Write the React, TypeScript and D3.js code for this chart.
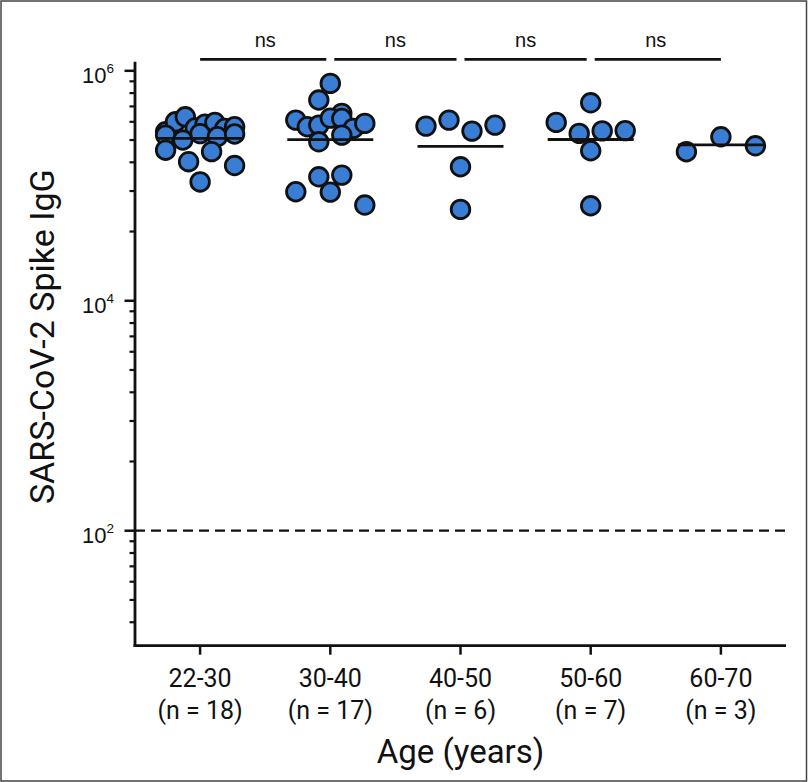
import React from "react";
import * as d3 from "d3";

// ---------- data ----------
const CATEGORIES = ["22-30", "30-40", "40-50", "50-60", "60-70"];

// SARS-CoV-2 spike IgG per participant, by age group
const IGG_22_30 = [
  295000, 360000, 398000, 318000, 344000, 355000, 315000, 326000,
  276000, 250000, 284000, 267000, 282000,
  204000, 162000, 198000, 150000,
  108000,
];
const IGG_30_40 = [
  777000,
  557000, 426000,
  372700, 326000, 337100, 388000, 385000, 315600, 348800,
  241300, 276000,
  119700, 123900,
  88700, 88000,
  68000,
];
const IGG_40_50 = [330500, 372700, 299000, 337100, 146300, 62300];
const IGG_50_60 = [527000, 355800, 285600, 300000, 302000, 201600, 67000];
const IGG_60_70 = [197600, 266700, 222700];

const GROUPS = [IGG_22_30, IGG_30_40, IGG_40_50, IGG_50_60, IGG_60_70];

const Y_MAJOR_TICKS = [1e2, 1e4, 1e6];
const Y_MAJOR_EXP = ["2", "4", "6"];
const SIG_LABELS = ["ns", "ns", "ns", "ns"];
const DETECTION_LIMIT = 100;
const Y_TITLE = "SARS-CoV-2 Spike IgG";
const X_TITLE = "Age (years)";

// ---------- layout ----------
const W = 808;
const H = 782;
const X0 = 135;
const X1 = 786;
const Y_TOP = 61.7;
const Y_BOT = 645.7;
const FILL = "#3a7dd5";
const INK = "#111";

const x = d3.scalePoint<string>().domain(CATEGORIES).range([X0, X1]).padding(0.5);
const y = d3.scaleLog().domain([10, 1.2e6]).range([Y_BOT, Y_TOP]);

// minor ticks (Prism style: spaced within each labelled 100-fold interval)
const MINOR_TICKS: number[] = [];
Y_MAJOR_TICKS.forEach((m) => {
  d3.range(2, 10).forEach((k) => {
    const v = m * (k / 10) * (k / 10);
    if (v >= 10 && v <= 1.2e6) MINOR_TICKS.push(v);
  });
});

function swarm(values: number[], cx: number): number[] {
  const order = values.map((_, i) => i).sort((a, b) => values[b] - values[a]);
  const rows: { start: number; members: number[] }[] = [];
  let cur: { start: number; members: number[] } | null = null;
  for (const i of order) {
    const py = y(values[i]);
    if (!cur || py - cur.start > 16) {
      cur = { start: py, members: [] };
      rows.push(cur);
    }
    cur.members.push(i);
  }
  const xs = new Array(values.length).fill(cx);
  rows.forEach((r) => {
    const m = r.members.slice().sort((a, b) => a - b);
    const n = m.length;
    const s = n > 2 ? 69 / (n - 1) : 23;
    m.forEach((i, k) => {
      xs[i] = cx + (k - (n - 1) / 2) * s;
    });
  });
  return xs;
}

export default function App() {
  const sans = "'Liberation Sans', Arial, sans-serif";
  const cond = "Roboto, sans-serif";
  const sigY = 59.3;

  return (
    <svg
      width={W}
      height={H}
      viewBox={`0 0 ${W} ${H}`}
      style={{ position: "absolute", left: 0, top: 0, display: "block", background: "#fff" }}
    >
      <rect x={0} y={0} width={W} height={H} fill="#fff" />
      <rect x={1} y={1} width={W - 2.5} height={H - 2} fill="none" stroke="#444" strokeWidth={1.5} />

      {/* detection limit */}
      <line
        x1={X0}
        x2={X1}
        y1={y(DETECTION_LIMIT)}
        y2={y(DETECTION_LIMIT)}
        stroke={INK}
        strokeWidth={2.2}
        strokeDasharray="10,6"
      />

      {/* y axis */}
      <line x1={X0} x2={X0} y1={Y_TOP} y2={Y_BOT + 1.4} stroke={INK} strokeWidth={2.8} />
      {MINOR_TICKS.map((v, i) => (
        <line key={"m" + i} x1={X0 - 5.5} x2={X0} y1={y(v)} y2={y(v)} stroke={INK} strokeWidth={2.2} />
      ))}
      {Y_MAJOR_TICKS.map((v, i) => (
        <g key={"M" + i}>
          <line x1={X0 - 10.5} x2={X0} y1={y(v)} y2={y(v)} stroke={INK} strokeWidth={2.5} />
          <text x={114} y={y(v) + 12.5} textAnchor="end" fontFamily={sans} fontSize={22} fill={INK}>
            10
            <tspan dy={-10} fontSize={13.5}>
              {Y_MAJOR_EXP[i]}
            </tspan>
          </text>
        </g>
      ))}
      <text
        transform={`translate(54, ${(y(1.2e6) + Y_BOT) / 2 - 17}) rotate(-90)`}
        textAnchor="middle"
        fontFamily={cond}
        fontSize={34}
        fill={INK}
      >
        {Y_TITLE}
      </text>

      {/* x axis */}
      <line x1={X0 - 1.4} x2={X1} y1={Y_BOT} y2={Y_BOT} stroke={INK} strokeWidth={2.8} />
      {CATEGORIES.map((c, i) => {
        const cx = x(c)!;
        return (
          <g key={c}>
            <line x1={cx} x2={cx} y1={Y_BOT} y2={Y_BOT + 9} stroke={INK} strokeWidth={2.5} />
            <text x={cx} y={687} textAnchor="middle" fontFamily={cond} fontSize={25} fill={INK}>
              {c}
            </text>
            <text x={cx} y={719} textAnchor="middle" fontFamily={cond} fontSize={25} fill={INK}>
              {`(n = ${GROUPS[i].length})`}
            </text>
          </g>
        );
      })}
      <text x={(X0 + X1) / 2} y={763} textAnchor="middle" fontFamily={cond} fontSize={33} fill={INK}>
        {X_TITLE}
      </text>

      {/* points and geometric-mean lines */}
      {GROUPS.map((vals, gi) => {
        const cx = x(CATEGORIES[gi])!;
        const xs = swarm(vals, cx);
        const gm = Math.pow(10, d3.mean(vals, (v) => Math.log10(v))!);
        return (
          <g key={"g" + gi}>
            {vals.map((v, i) => (
              <circle key={i} cx={xs[i]} cy={y(v)} r={9.3} fill={FILL} stroke={INK} strokeWidth={2.8} />
            ))}
            <line x1={cx - 43} x2={cx + 43} y1={y(gm)} y2={y(gm)} stroke={INK} strokeWidth={2.8} />
          </g>
        );
      })}

      {/* significance brackets */}
      {SIG_LABELS.map((lab, i) => {
        const a = x(CATEGORIES[i])!;
        const b = x(CATEGORIES[i + 1])!;
        const s = i === 0 ? a : a + 4;
        const e = i === SIG_LABELS.length - 1 ? b : b - 4;
        return (
          <g key={"s" + i}>
            <line x1={s} x2={e} y1={sigY} y2={sigY} stroke={INK} strokeWidth={2.8} />
            <text x={(a + b) / 2} y={47.3} textAnchor="middle" fontFamily={sans} fontSize={20} fill={INK}>
              {lab}
            </text>
          </g>
        );
      })}
    </svg>
  );
}
